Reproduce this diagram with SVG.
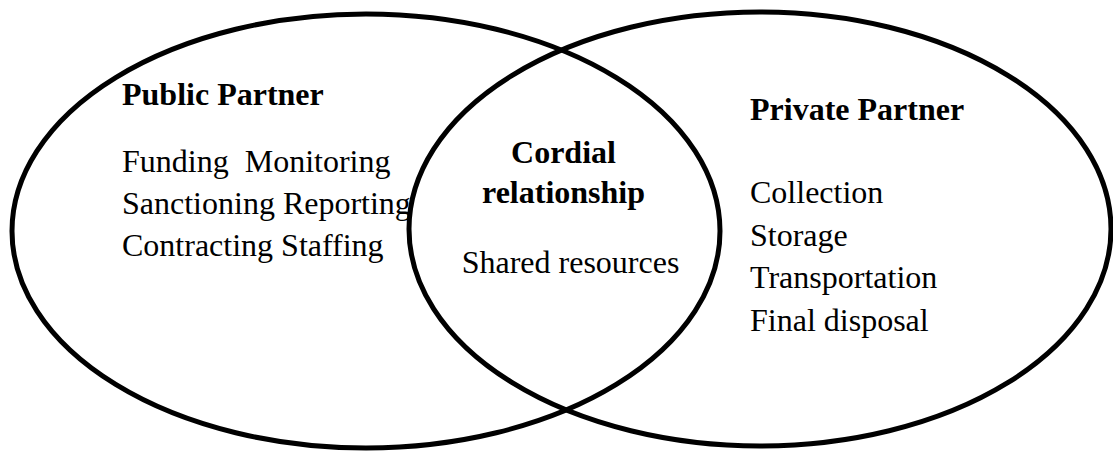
<svg xmlns="http://www.w3.org/2000/svg" width="1113" height="451" viewBox="0 0 1113 451">
<style>
.shape{fill:none;stroke:#000;stroke-width:5}
text{font-family:"Liberation Serif","Times New Roman",serif;font-size:32px;fill:#000}
.b{font-weight:bold}
.c{text-anchor:middle}
</style>
<rect width="1113" height="451" fill="#fff"/>
<g id="public-partner">
<ellipse class="shape" cx="366" cy="231" rx="354" ry="217"/>
<text class="b" x="122" y="105">Public Partner</text>
<text x="122" y="172" xml:space="preserve">Funding  Monitoring</text>
<text x="122" y="214">Sanctioning Reporting</text>
<text x="122" y="256">Contracting Staffing</text>
</g>
<g id="private-partner">
<ellipse class="shape" cx="760" cy="229" rx="351" ry="217"/>
<text class="b" x="750" y="120">Private Partner</text>
<text x="750" y="203">Collection</text>
<text x="750" y="246">Storage</text>
<text x="750" y="288">Transportation</text>
<text x="750" y="331">Final disposal</text>
</g>
<g id="cordial-relationship">
<text class="b c" x="563.5" y="163">Cordial</text>
<text class="b c" x="563.5" y="203">relationship</text>
<text class="c" x="570.5" y="273">Shared resources</text>
</g>
</svg>
